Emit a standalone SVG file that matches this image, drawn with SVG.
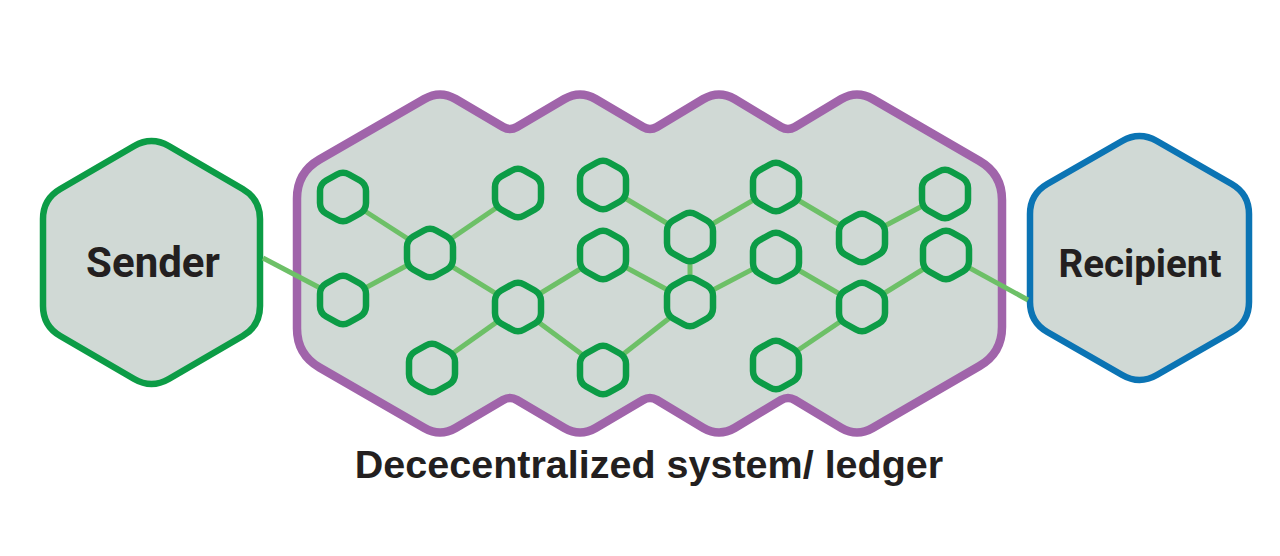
<svg xmlns="http://www.w3.org/2000/svg" xmlns:xlink="http://www.w3.org/1999/xlink" width="1280" height="556" viewBox="0 0 1280 556">
<style>
.bg{fill:#ffffff}
.ledger{fill:#d0d9d5;stroke:#a064aa;stroke-width:8.5;stroke-linejoin:round}
.sender{fill:#d0d9d5;stroke:#0c9c46;stroke-width:6.5;stroke-linejoin:round}
.recipient{fill:#d0d9d5;stroke:#0b74b4;stroke-width:6.5;stroke-linejoin:round}
.node{fill:#d0d9d5;stroke:#0c9c46;stroke-width:6.5;stroke-linejoin:round}
.edge{stroke:#6dc067;stroke-width:5;stroke-linecap:butt;fill:none}
.big{font-family:Roboto,"Open Sans","Liberation Sans",sans-serif;font-weight:700;fill:#231f20;text-anchor:middle}
.caption{font-family:"Liberation Sans",Arial,sans-serif;font-weight:700;font-size:39.5px;fill:#231f20;text-anchor:middle}
</style>
<defs>
<path id="hx" d="M -6.1,-22.5 Q 0,-26 6.1,-22.5 L 16.9,-16.5 Q 23,-13 23,-6 L 23,6 Q 23,13 16.9,16.5 L 6.1,22.5 Q 0,26 -6.1,22.5 L -16.9,16.5 Q -23,13 -23,6 L -23,-6 Q -23,-13 -16.9,-16.5 Z"/>
</defs>
<rect class="bg" x="0" y="0" width="1280" height="556"/>

<g id="ledger">
<path class="ledger" d="M 297,198.5 Q 297,172.5 319.5,159.5 L 424.4,99 Q 440,90 455.6,99 L 503.1,127 Q 510,131 516.9,127 L 564.4,99 Q 580,90 595.6,99 L 643.1,127 Q 650,131 656.9,127 L 703.4,99 Q 719,90 734.6,99 L 781.1,127 Q 788,131 794.9,127 L 841.4,99 Q 857,90 872.6,99 L 979.5,161 Q 1002,174 1002,200 L 1002,327 Q 1002,353 979.5,366 L 872.6,428 Q 857,437 841.4,428 L 794.9,400 Q 788,396 781.1,400 L 734.6,428 Q 719,437 703.4,428 L 656.9,400 Q 650,396 643.1,400 L 595.6,428 Q 580,437 564.4,428 L 516.9,400 Q 510,396 503.1,400 L 455.6,428 Q 440,437 424.4,428 L 319.5,367.5 Q 297,354.5 297,328.5 Z"/>
<text class="caption" x="649" y="478">Dececentralized system/ ledger</text>
</g>

<g id="sender">
<path class="sender" d="M 134.2,146 Q 151.5,136 168.8,146 L 242.7,189 Q 260,199 260,219 L 260,306 Q 260,326 242.7,336 L 168.8,379 Q 151.5,389 134.2,379 L 60.3,336 Q 43,326 43,306 L 43,219 Q 43,199 60.3,189 Z"/>
<text class="big" x="153" y="277" font-size="42">Sender</text>
</g>

<g id="recipient">
<path class="recipient" d="M 1122.2,141 Q 1139.5,131 1156.8,141 L 1231.7,184 Q 1249,194 1249,214 L 1249,302 Q 1249,322 1231.7,332 L 1156.8,375 Q 1139.5,385 1122.2,375 L 1047.3,332 Q 1030,322 1030,302 L 1030,214 Q 1030,194 1047.3,184 Z"/>
<text class="big" x="1140" y="277" font-size="38.5">Recipient</text>
</g>

<g id="connectors">
<line class="edge" x1="263" y1="258" x2="343" y2="300"/>
<line class="edge" x1="343" y1="197" x2="430" y2="253"/>
<line class="edge" x1="430" y1="253" x2="518" y2="193"/>
<line class="edge" x1="343" y1="300" x2="430" y2="253"/>
<line class="edge" x1="430" y1="253" x2="518" y2="307"/>
<line class="edge" x1="518" y1="307" x2="432" y2="368"/>
<line class="edge" x1="518" y1="307" x2="603" y2="255"/>
<line class="edge" x1="518" y1="307" x2="603" y2="370"/>
<line class="edge" x1="603" y1="185" x2="690" y2="237"/>
<line class="edge" x1="603" y1="255" x2="690" y2="302"/>
<line class="edge" x1="690" y1="237" x2="690" y2="302"/>
<line class="edge" x1="603" y1="370" x2="690" y2="302"/>
<line class="edge" x1="690" y1="237" x2="776" y2="187"/>
<line class="edge" x1="690" y1="302" x2="776" y2="257"/>
<line class="edge" x1="776" y1="187" x2="862" y2="238"/>
<line class="edge" x1="776" y1="257" x2="862" y2="307"/>
<line class="edge" x1="862" y1="238" x2="945" y2="194"/>
<line class="edge" x1="862" y1="307" x2="946" y2="255"/>
<line class="edge" x1="776" y1="365" x2="862" y2="307"/>
<line class="edge" x1="946" y1="255" x2="1028" y2="300"/>
</g>

<g id="n-a"><use xlink:href="#hx" class="node" x="343" y="197"/></g>
<g id="n-b"><use xlink:href="#hx" class="node" x="343" y="300"/></g>
<g id="n-c"><use xlink:href="#hx" class="node" x="430" y="253"/></g>
<g id="n-d"><use xlink:href="#hx" class="node" x="518" y="193"/></g>
<g id="n-e"><use xlink:href="#hx" class="node" x="518" y="307"/></g>
<g id="n-f"><use xlink:href="#hx" class="node" x="432" y="368"/></g>
<g id="n-g"><use xlink:href="#hx" class="node" x="603" y="185"/></g>
<g id="n-h"><use xlink:href="#hx" class="node" x="603" y="255"/></g>
<g id="n-i"><use xlink:href="#hx" class="node" x="603" y="370"/></g>
<g id="n-j"><use xlink:href="#hx" class="node" x="690" y="237"/></g>
<g id="n-k"><use xlink:href="#hx" class="node" x="690" y="302"/></g>
<g id="n-l"><use xlink:href="#hx" class="node" x="776" y="187"/></g>
<g id="n-m"><use xlink:href="#hx" class="node" x="776" y="257"/></g>
<g id="n-n"><use xlink:href="#hx" class="node" x="776" y="365"/></g>
<g id="n-o"><use xlink:href="#hx" class="node" x="862" y="238"/></g>
<g id="n-p"><use xlink:href="#hx" class="node" x="862" y="307"/></g>
<g id="n-q"><use xlink:href="#hx" class="node" x="945" y="194"/></g>
<g id="n-r"><use xlink:href="#hx" class="node" x="946" y="255"/></g>
</svg>
